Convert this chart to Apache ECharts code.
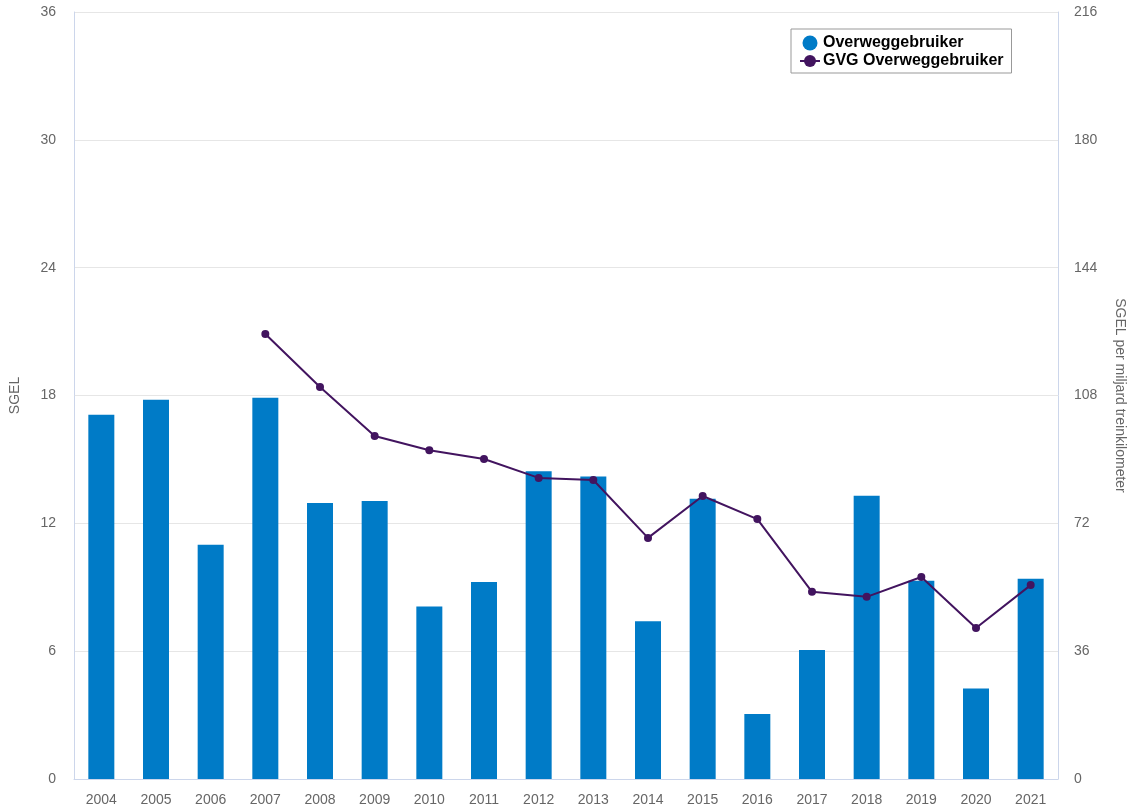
<!DOCTYPE html>
<html lang="en">
<head>
    <meta charset="UTF-8">
    <title>SGEL</title>
    <script src="https://cdn.jsdelivr.net/npm/echarts@6/dist/echarts.min.js"></script>
    <style>
        html, body { margin: 0; padding: 0; background: #fff; }
        #chart { width: 1135px; height: 812px; }
    </style>
</head>
<body>
    <div id="chart"></div>
<script>
    var years = ['2004','2005','2006','2007','2008','2009','2010','2011','2012','2013','2014','2015','2016','2017','2018','2019','2020','2021'];
    var sgel = [17.1, 17.8, 11.0, 17.9, 12.95, 13.05, 8.1, 9.25, 14.45, 14.2, 7.4, 13.15, 3.05, 6.05, 13.3, 9.3, 4.25, 9.4];
    var gvg = [null, null, null, 125.3, 110.4, 96.6, 92.6, 90.1, 84.8, 84.2, 67.9, 79.7, 73.2, 52.7, 51.3, 56.9, 42.5, 54.6];
    var leftTicks = [0, 36, 6];
    var rightTicks = [0, 216, 36];

    var labelStyle = { color: '#666', fontSize: 14, fontFamily: 'Liberation Sans, Arial, sans-serif' };
    var chart = echarts.init(document.getElementById('chart'));
    chart.setOption({
        animation: false,
        textStyle: { fontFamily: 'Liberation Sans, Arial, sans-serif' },
        grid: { left: 74, right: 77, top: 12, bottom: 33 },
        legend: {
            orient: 'vertical',
            left: 791, top: 29,
            padding: [6, 8, 4, 8],
            itemGap: 2,
            itemWidth: 20, itemHeight: 15,
            borderColor: '#999', borderWidth: 1,
            textStyle: { color: '#000', fontWeight: 'bold', fontSize: 16, padding: [0, 0, 0, -2] },
            data: [
                { name: 'Overweggebruiker', icon: 'circle' },
                { name: 'GVG Overweggebruiker' }
            ]
        },
        xAxis: {
            type: 'category',
            data: years,
            axisLine: { lineStyle: { color: '#ccd6eb' } },
            axisTick: { show: false },
            axisLabel: Object.assign({ margin: 14 }, labelStyle)
        },
        yAxis: [{
            type: 'value',
            min: leftTicks[0], max: leftTicks[1], interval: leftTicks[2],
            name: 'SGEL', nameLocation: 'middle', nameGap: 52, nameRotate: 90,
            nameTextStyle: { color: '#666', fontSize: 14 },
            axisLine: { show: true, lineStyle: { color: '#ccd6eb' } },
            axisLabel: Object.assign({ margin: 18 }, labelStyle),
            splitLine: { lineStyle: { color: '#e6e6e6' } }
        }, {
            type: 'value',
            min: rightTicks[0], max: rightTicks[1], interval: rightTicks[2],
            name: 'SGEL per miljard treinkilometer', nameLocation: 'middle', nameGap: 55, nameRotate: -90,
            nameTextStyle: { color: '#666', fontSize: 14 },
            axisLine: { show: true, lineStyle: { color: '#ccd6eb' } },
            axisLabel: Object.assign({ margin: 16 }, labelStyle),
            splitLine: { show: false }
        }],
        series: [{
            name: 'Overweggebruiker',
            type: 'bar',
            data: sgel,
            barWidth: 26,
            itemStyle: { color: '#007bc7' }
        }, {
            name: 'GVG Overweggebruiker',
            type: 'line',
            yAxisIndex: 1,
            data: gvg,
            symbol: 'circle',
            symbolSize: 8,
            lineStyle: { color: '#42145f', width: 2 },
            itemStyle: { color: '#42145f' }
        }]
    });
    window.onresize = chart.resize;
</script>
</body>
</html>
